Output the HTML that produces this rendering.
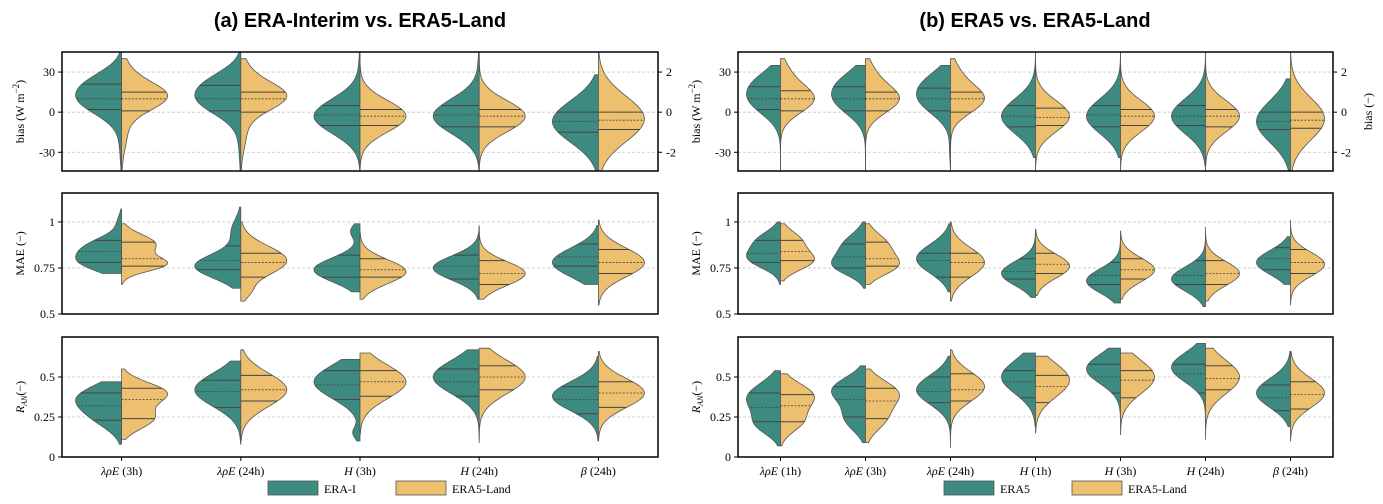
<!DOCTYPE html>
<html><head><meta charset="utf-8">
<style>
body{margin:0;background:#fff;}
svg{display:block;}
text{font-family:"Liberation Serif",serif;fill:#000;}
.title{font-family:"Liberation Sans",sans-serif;font-weight:bold;font-size:20px;}
</style></head>
<body>
<svg id="chart" width="1383" height="504" viewBox="0 0 1383 504" xmlns="http://www.w3.org/2000/svg">
<text class="title" x="360" y="27" text-anchor="middle">(a) ERA-Interim vs. ERA5-Land</text>
<text class="title" x="1035" y="27" text-anchor="middle">(b) ERA5 vs. ERA5-Land</text>
</svg>
<script>
// ---- data ----
const catsA = ["λρE (3h)","λρE (24h)","H (3h)","H (24h)","β (24h)"];
const catsB = ["λρE (1h)","λρE (3h)","λρE (24h)","H (1h)","H (3h)","H (24h)","β (24h)"];
// each half: [lo, hi, q1, median, q3, peaks [[center, sd, weight]...]]
const biasA_ref = [
 [-44,45,2,10,21,[[10,9,1],[25,7,0.35],[-20,12,0.05]]],
 [-44,45,1,10,20,[[10,9,1],[25,7,0.35],[-20,12,0.05]]],
 [-44,45,-10,-2,5,[[-3,10,1],[35,8,0.02]]],
 [-44,45,-11,-2,5,[[-3,10,1],[35,8,0.02]]],
 [-44,28,-15,-7,0,[[-7,12,0.9]]]];
const biasA_land = [
 [-44,40,1,10,15,[[12,8,1],[32,8,0.12],[-15,10,0.12]]],
 [-44,40,0,10,15,[[12,8,1],[32,8,0.12],[-15,10,0.12]]],
 [-44,45,-10,-3,2,[[-3,9,1]]],
 [-44,45,-11,-3,2,[[-3,9,1]]],
 [-44,45,-13,-6,0,[[-5,13,1]]]];
const biasB_ref = [
 [-44,35,2,10,19,[[10,9,1],[25,7,0.4]]],
 [-44,35,1,10,19,[[10,9,1],[25,7,0.4]]],
 [-44,35,1,10,18,[[10,9,1],[25,7,0.4],[-28,6,0.03]]],
 [-34,45,-11,-3,5,[[-3,10,0.9]]],
 [-34,45,-11,-2,5,[[-3,10,0.9]]],
 [-40,45,-10,-3,5,[[-3,10,0.9]]],
 [-44,25,-13,-7,0,[[-7,12,0.9]]]];
const biasB_land = [
 [-44,40,1,10,16,[[10,8,1],[30,7,0.2]]],
 [-44,40,1,10,15,[[10,8,1],[30,7,0.2]]],
 [-44,40,0,10,15,[[10,8,1],[30,7,0.2]]],
 [-44,45,-10,-4,3,[[-3,9,1]]],
 [-44,45,-10,-3,2,[[-3,9,1]]],
 [-44,45,-11,-3,2,[[-3,9,1]]],
 [-44,45,-12,-6,0,[[-5,12,1]]]];
const maeA_ref = [
 [0.72,1.07,0.78,0.84,0.90,[[0.78,0.04,1],[0.87,0.04,0.8],[1.0,0.03,0.1]]],
 [0.64,1.08,0.74,0.79,0.87,[[0.76,0.05,1],[0.95,0.05,0.2]]],
 [0.62,0.99,0.70,0.76,0.82,[[0.74,0.05,1],[0.95,0.03,0.2]]],
 [0.58,0.98,0.69,0.76,0.82,[[0.75,0.05,1]]],
 [0.66,0.98,0.76,0.81,0.88,[[0.78,0.06,1]]]];
const maeA_land = [
 [0.66,0.99,0.76,0.80,0.89,[[0.77,0.03,1],[0.88,0.04,0.8]]],
 [0.57,1.00,0.70,0.78,0.83,[[0.79,0.06,1],[0.62,0.03,0.15]]],
 [0.58,0.95,0.70,0.74,0.80,[[0.73,0.05,1]]],
 [0.58,0.97,0.66,0.72,0.79,[[0.72,0.05,1]]],
 [0.55,1.01,0.72,0.78,0.85,[[0.78,0.06,1]]]];
const maeB_ref = [
 [0.66,1.00,0.78,0.83,0.90,[[0.80,0.04,1],[0.90,0.04,0.7]]],
 [0.64,1.00,0.75,0.81,0.88,[[0.76,0.04,1],[0.87,0.05,0.8]]],
 [0.62,0.99,0.70,0.79,0.83,[[0.80,0.06,1]]],
 [0.59,0.94,0.69,0.73,0.80,[[0.72,0.05,1]]],
 [0.56,0.92,0.66,0.71,0.78,[[0.68,0.05,1]]],
 [0.54,0.94,0.66,0.71,0.79,[[0.69,0.05,1]]],
 [0.66,0.92,0.74,0.80,0.86,[[0.78,0.05,1]]]];
const maeB_land = [
 [0.68,0.99,0.79,0.84,0.90,[[0.79,0.04,1],[0.90,0.04,0.6]]],
 [0.66,0.99,0.76,0.80,0.89,[[0.76,0.04,1],[0.87,0.05,0.8]]],
 [0.57,1.00,0.70,0.78,0.83,[[0.78,0.06,1]]],
 [0.60,0.96,0.72,0.77,0.83,[[0.76,0.05,1]]],
 [0.58,0.95,0.69,0.74,0.80,[[0.74,0.05,1]]],
 [0.57,0.97,0.66,0.72,0.79,[[0.72,0.05,1]]],
 [0.55,1.01,0.72,0.78,0.85,[[0.77,0.05,1]]]];
const ranA_ref = [
 [0.08,0.47,0.23,0.32,0.40,[[0.38,0.06,1],[0.25,0.06,0.6]]],
 [0.08,0.60,0.31,0.41,0.48,[[0.42,0.08,1]]],
 [0.10,0.61,0.36,0.45,0.54,[[0.47,0.08,1],[0.15,0.03,0.15]]],
 [0.09,0.67,0.38,0.47,0.55,[[0.50,0.08,1]]],
 [0.10,0.63,0.27,0.36,0.44,[[0.38,0.07,1]]]];
const ranA_land = [
 [0.11,0.55,0.24,0.36,0.43,[[0.40,0.05,1],[0.24,0.05,0.7]]],
 [0.10,0.67,0.35,0.42,0.51,[[0.42,0.08,1]]],
 [0.14,0.65,0.38,0.47,0.54,[[0.47,0.08,1]]],
 [0.11,0.68,0.42,0.50,0.57,[[0.50,0.08,1]]],
 [0.10,0.66,0.31,0.40,0.47,[[0.40,0.07,1]]]];
const ranB_ref = [
 [0.07,0.54,0.22,0.31,0.40,[[0.37,0.07,1],[0.20,0.05,0.6]]],
 [0.09,0.57,0.25,0.36,0.44,[[0.42,0.06,1],[0.24,0.06,0.6]]],
 [0.06,0.63,0.34,0.41,0.50,[[0.42,0.07,1]]],
 [0.19,0.65,0.37,0.47,0.54,[[0.50,0.08,1]]],
 [0.23,0.68,0.40,0.50,0.58,[[0.55,0.07,1]]],
 [0.18,0.71,0.40,0.52,0.58,[[0.56,0.07,1]]],
 [0.19,0.66,0.29,0.37,0.45,[[0.40,0.07,1]]]];
const ranB_land = [
 [0.07,0.52,0.22,0.32,0.39,[[0.38,0.06,1],[0.22,0.05,0.6]]],
 [0.09,0.55,0.24,0.35,0.43,[[0.40,0.06,1],[0.24,0.06,0.6]]],
 [0.10,0.67,0.35,0.42,0.52,[[0.44,0.07,1]]],
 [0.15,0.63,0.34,0.44,0.51,[[0.48,0.08,1]]],
 [0.14,0.65,0.37,0.48,0.54,[[0.50,0.08,1]]],
 [0.11,0.68,0.42,0.49,0.57,[[0.50,0.08,1]]],
 [0.10,0.66,0.30,0.39,0.47,[[0.40,0.07,1]]]];
const biasTicks = [30,0,-30];
const biasRightTicks = [2,0,-2];
const maeTicks = [1,0.75,0.5];
const maeTickLabels = ["1","0.75","0.5"];
const ranTicks = [0.5,0.25,0];
const ranTickLabels = ["0.5","0.25","0"];

// ---- drawing ----
const svg = document.getElementById('chart');
const NS = 'http://www.w3.org/2000/svg';
const TEAL = '#3d8a80', GOLD = '#ecc06e';
const BW = 1.3; // smoothing factor
function mk(tag, attrs, parent){
  const e = document.createElementNS(NS, tag);
  for (const k in attrs) e.setAttribute(k, attrs[k]);
  (parent||svg).appendChild(e); return e;
}
function dens(peaks, v){ let s=0; for (const p of peaks) s += p[2]*Math.exp(-0.5*((v-p[0])/(p[1]*BW))**2); return s; }

function panel(o){
  const g = mk('g', {});
  
  
  const {x0,x1,y0,y1,min,max} = o;
  const Y = v => y1 - (v-min)/(max-min)*(y1-y0);
  const n = o.cats.length, step = (x1-x0)/n;
  const X = i => x0 + step*(i+0.5);
  o.ticks.forEach((t,i)=>{
    const gl = mk('line',{x1:x0,x2:x1,y1:Y(t),y2:Y(t),stroke:'#c8c8c8','stroke-width':0.8,'stroke-dasharray':'3,2'},g);
    
    
    const tk = mk('line',{x1:x0-4,x2:x0,y1:Y(t),y2:Y(t),stroke:'#000','stroke-width':1},g);
    
    
    const tl = mk('text',{x:x0-7,y:Y(t)+4,'text-anchor':'end','font-size':'12'},g);
    tl.textContent = o.tickLabels[i];
    
    
  });
  if (o.rTicks){
    o.rTicks.forEach(t=>{
      const yy = Y(t*15);
      const tk = mk('line',{x1:x1,x2:x1+4,y1:yy,y2:yy,stroke:'#000','stroke-width':1},g);
      
      
      const tl = mk('text',{x:x1+8,y:yy+4,'font-size':'12'},g);
      tl.textContent = String(t);
      
      
    });
  }
  const halves = [[o.ref,TEAL,-1],[o.land,GOLD,1]];
  for (let i=0;i<n;i++){
    const cx = X(i);
    for (const [arr,col,sgn] of halves){
      const [lo,hi,q1,md,q3,pk] = arr[i];
      const N=80; let mx=0; const vals=[];
      for (let k=0;k<=N;k++){ const v = lo+(hi-lo)*k/N; const d=dens(pk,v); vals.push([v,d]); if(d>mx) mx=d; }
      const W = o.W;
      let dstr = `M${cx},${Y(lo)}`;
      vals.forEach(([v,d])=>{ dstr += ` L${(cx+sgn*W*d/mx).toFixed(2)},${Y(v).toFixed(2)}`; });
      dstr += ` L${cx},${Y(hi)} Z`;
      const p = mk('path',{d:dstr,fill:col,stroke:'#555','stroke-width':0.8},g);
      
      
      [q1,md,q3].forEach((q,j)=>{
        const w = W*dens(pk,q)/mx;
        const ql = mk('line',{x1:cx,x2:cx+sgn*w,y1:Y(q),y2:Y(q),stroke:'#444','stroke-width':j==1?0.8:1,'stroke-dasharray':j==1?'2,1.5':'none'},g);
        
        
      });
    }
    if (o.xlabels){
      const tk = mk('line',{x1:cx,x2:cx,y1:y1,y2:y1+4,stroke:'#000','stroke-width':1},g);
      
      
      const lab = o.cats[i];
      const sp = lab.indexOf(' ');
      const tl = mk('text',{x:cx,y:y1+18,'text-anchor':'middle','font-size':'12'},g);
      const a = mk('tspan',{'font-style':'italic'},tl); a.textContent = lab.slice(0,sp);
      const b = mk('tspan',{},tl); b.textContent = ' '+lab.slice(sp+1);
      
      
    }
  }
  const fr = mk('rect',{x:x0,y:y0,width:x1-x0,height:y1-y0,fill:'none',stroke:'#000','stroke-width':1.5},g);
  
  
  const yt = mk('text',{transform:`translate(${o.ytx},${(y0+y1)/2}) rotate(-90)`,'text-anchor':'middle','font-size':'12'},g);
  
  
  if (o.ytitle==='bias'){ yt.innerHTML = 'bias (W m<tspan dy="-5" font-size="9">−2</tspan><tspan dy="5">)</tspan>'; }
  else if (o.ytitle==='mae'){ yt.textContent = 'MAE (−)'; }
  else { yt.innerHTML = '<tspan font-style="italic">R</tspan><tspan font-style="italic" font-size="8" dy="3">AN</tspan><tspan dy="-3">(−)</tspan>'; }
  if (o.rtitle){
    const rt = mk('text',{transform:`translate(${o.rtx},${(y0+y1)/2}) rotate(-90)`,'text-anchor':'middle','font-size':'12'},g);
    rt.textContent = 'bias (−)';
    
    
  }
}
const LA = {x0:62,x1:658,W:46}, RB = {x0:738,x1:1333,W:34};
const rows = [
 {y0:52,y1:171,min:-44,max:45,ticks:biasTicks,tickLabels:biasTicks.map(String),ytitle:'bias',rTicks:biasRightTicks},
 {y0:193,y1:314,min:0.5,max:1.157,ticks:maeTicks,tickLabels:maeTickLabels,ytitle:'mae'},
 {y0:337,y1:457,min:0,max:0.75,ticks:ranTicks,tickLabels:ranTickLabels,ytitle:'ran',xlabels:true}];
const dataA = [[biasA_ref,biasA_land],[maeA_ref,maeA_land],[ranA_ref,ranA_land]];
const dataB = [[biasB_ref,biasB_land],[maeB_ref,maeB_land],[ranB_ref,ranB_land]];
rows.forEach((r,k)=>{
  panel(Object.assign({},r,LA,{cats:catsA,ref:dataA[k][0],land:dataA[k][1],ytx:24,name:'panel-a-'+r.ytitle}));
  panel(Object.assign({},r,RB,{cats:catsB,ref:dataB[k][0],land:dataB[k][1],ytx:700,rtitle:k==0,rtx:1372,name:'panel-b-'+r.ytitle}));
});
function legend(x, items){
  let xx = x;
  items.forEach(([lab,col])=>{
    const r = mk('rect',{x:xx,y:481,width:50,height:14,fill:col,stroke:'#555','stroke-width':0.8});
    
    
    const t = mk('text',{x:xx+56,y:493,'font-size':'12'});
    t.textContent = lab;
    
    
    xx += 128;
  });
}
legend(268,[['ERA-I',TEAL],['ERA5-Land',GOLD]]);
legend(944,[['ERA5',TEAL],['ERA5-Land',GOLD]]);
</script>
</body></html>
